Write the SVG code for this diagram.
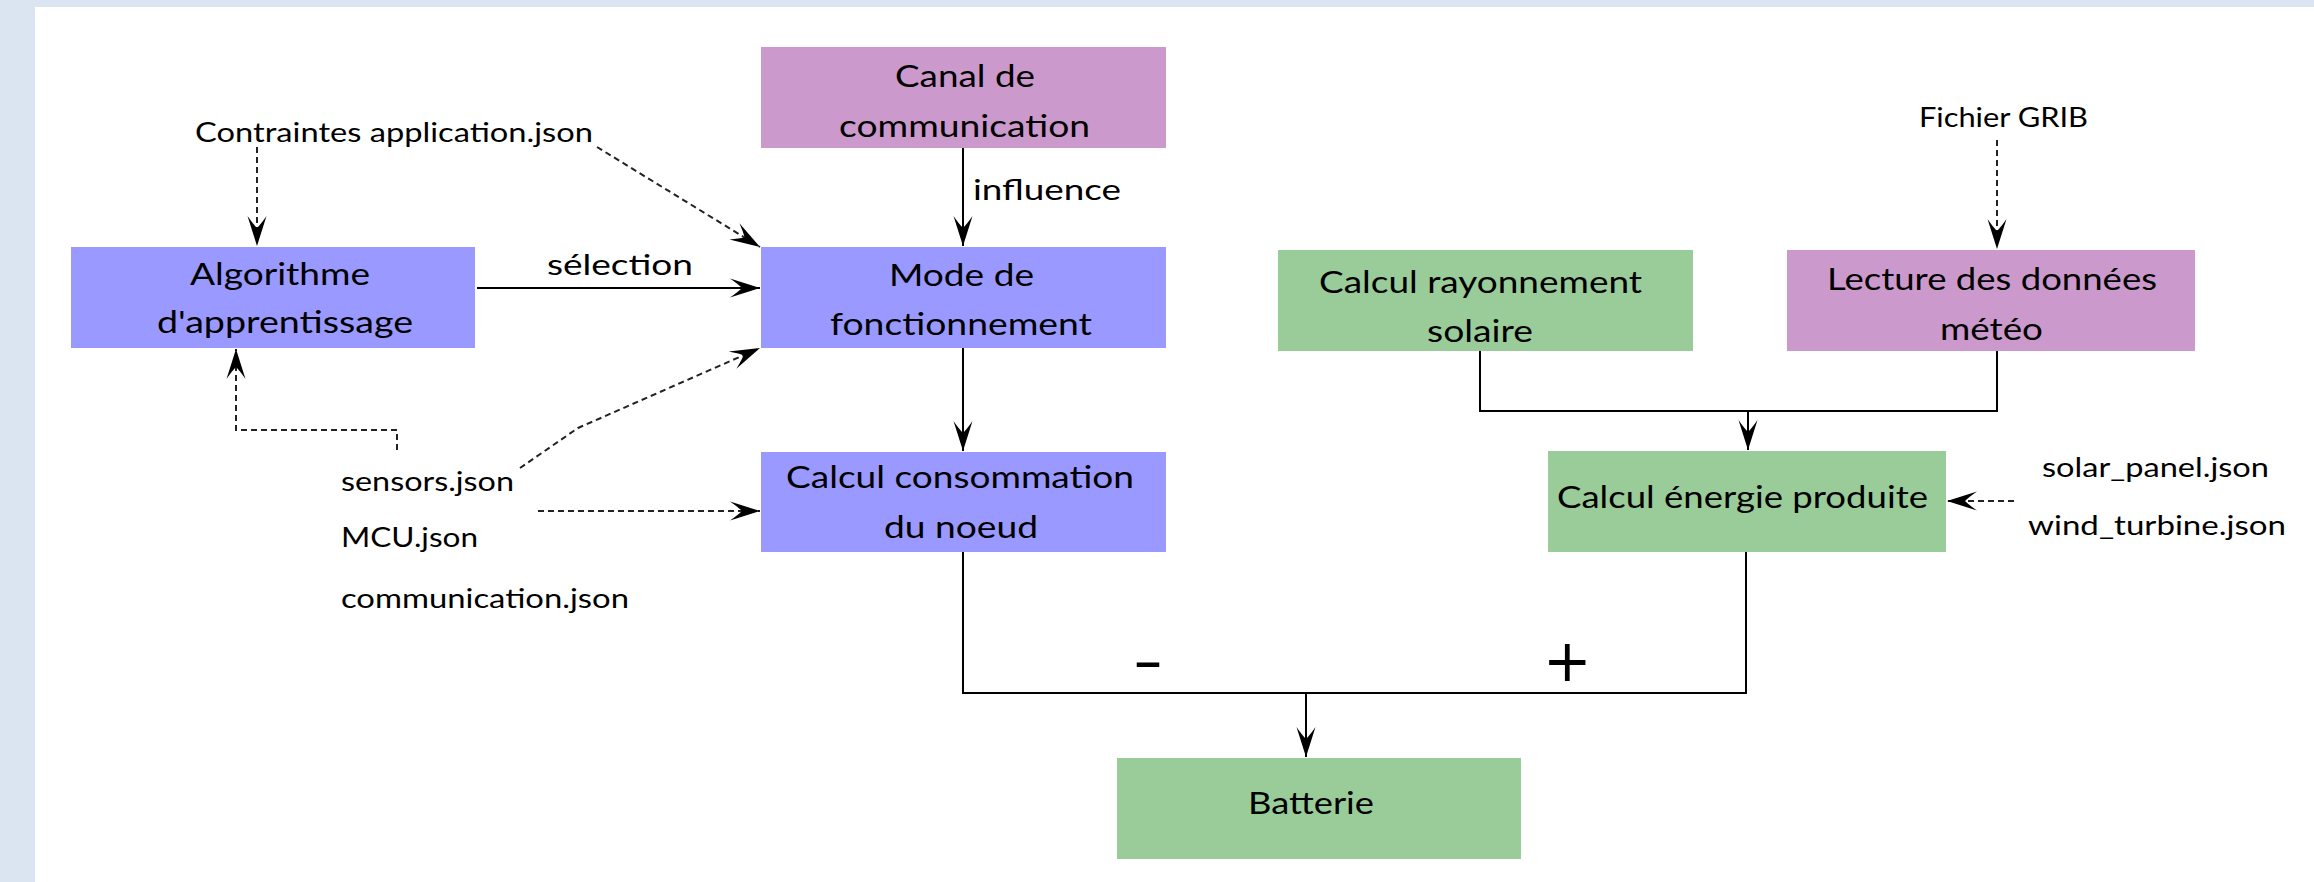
<svg xmlns="http://www.w3.org/2000/svg" width="2314" height="882" viewBox="0 0 2314 882">
<defs>
<style>
.bt{font-family:Lato,"Liberation Sans",sans-serif;font-size:30px;fill:#000}
.lb{font-family:Lato,"Liberation Sans",sans-serif;font-size:27px;fill:#000}
.el{font-family:Lato,"Liberation Sans",sans-serif;font-size:28px;fill:#000}
.sg{font-family:"DejaVu Sans",sans-serif;fill:#000}
.blue{fill:#9999ff}
.purple{fill:#cc99cc}
.green{fill:#99cc99}
.solid{stroke:#000;stroke-width:2;fill:none}
.dash{stroke:#222;stroke-width:2;stroke-dasharray:6 4;fill:none}
</style>
<marker id="ah" markerUnits="userSpaceOnUse" markerWidth="34" markerHeight="24" refX="32" refY="12" orient="auto">
<path d="M32,12 L2,2.5 Q10,8 14,12 Q10,16 2,21.5 Z" fill="#000"/>
</marker>
</defs>
<rect x="0" y="0" width="2314" height="882" fill="#dbe5f1"/>
<rect x="35" y="7" width="2279" height="875" fill="#ffffff"/>

<g id="connectors">
<line class="dash" x1="257" y1="147" x2="257" y2="246" marker-end="url(#ah)"/>
<line class="dash" x1="597" y1="147" x2="760" y2="247" marker-end="url(#ah)"/>
<line class="solid" x1="477" y1="288" x2="760" y2="288" marker-end="url(#ah)"/>
<polyline class="dash" points="397,450 397,430 236,430 236,349" marker-end="url(#ah)"/>
<polyline class="dash" points="520,468 578,428 760,348" marker-end="url(#ah)"/>
<line class="dash" x1="538" y1="511" x2="760" y2="511" marker-end="url(#ah)"/>
<line class="solid" x1="963" y1="148" x2="963" y2="246" marker-end="url(#ah)"/>
<line class="solid" x1="963" y1="348" x2="963" y2="451" marker-end="url(#ah)"/>
<line class="dash" x1="1997" y1="140" x2="1997" y2="249" marker-end="url(#ah)"/>
<polyline class="solid" points="1480,351 1480,411 1997,411 1997,351"/>
<line class="solid" x1="1748" y1="411" x2="1748" y2="450" marker-end="url(#ah)"/>
<line class="dash" x1="2014" y1="501" x2="1947" y2="501" marker-end="url(#ah)"/>
<polyline class="solid" points="963,552 963,693 1746,693 1746,552"/>
<line class="solid" x1="1306" y1="693" x2="1306" y2="757" marker-end="url(#ah)"/>
<text class="el" x="547" y="275" textLength="146" lengthAdjust="spacingAndGlyphs">sélection</text>
<text class="el" x="973" y="200" textLength="148" lengthAdjust="spacingAndGlyphs">influence</text>
<text class="sg" x="1134" y="682" font-size="64" textLength="28" lengthAdjust="spacingAndGlyphs">–</text>
<text class="sg" x="1543" y="681" font-size="58">+</text>
</g>

<g id="contraintes">
<text class="lb" x="195" y="142" textLength="398" lengthAdjust="spacingAndGlyphs">Contraintes application.json</text>
</g>
<g id="config-files">
<text class="lb" x="341" y="491" textLength="173" lengthAdjust="spacingAndGlyphs">sensors.json</text>
<text class="lb" x="341" y="547" textLength="137" lengthAdjust="spacingAndGlyphs">MCU.json</text>
<text class="lb" x="341" y="608" textLength="288" lengthAdjust="spacingAndGlyphs">communication.json</text>
</g>
<g id="grib">
<text class="lb" x="1919" y="127" textLength="169" lengthAdjust="spacingAndGlyphs">Fichier GRIB</text>
</g>
<g id="energy-files">
<text class="lb" x="2042" y="477" textLength="227" lengthAdjust="spacingAndGlyphs">solar_panel.json</text>
<text class="lb" x="2028" y="535" textLength="258" lengthAdjust="spacingAndGlyphs">wind_turbine.json</text>
</g>

<g id="algorithme">
<rect class="blue" x="71" y="247" width="404" height="101"/>
<text class="bt" x="190" y="285" textLength="180" lengthAdjust="spacingAndGlyphs">Algorithme</text>
<text class="bt" x="157" y="333" textLength="256" lengthAdjust="spacingAndGlyphs">d'apprentissage</text>
</g>
<g id="canal">
<rect class="purple" x="761" y="47" width="405" height="101"/>
<text class="bt" x="895" y="87" textLength="140" lengthAdjust="spacingAndGlyphs">Canal de</text>
<text class="bt" x="839" y="137" textLength="251" lengthAdjust="spacingAndGlyphs">communication</text>
</g>
<g id="mode">
<rect class="blue" x="761" y="247" width="405" height="101"/>
<text class="bt" x="889" y="286" textLength="145" lengthAdjust="spacingAndGlyphs">Mode de</text>
<text class="bt" x="830" y="335" textLength="262" lengthAdjust="spacingAndGlyphs">fonctionnement</text>
</g>
<g id="consommation">
<rect class="blue" x="761" y="452" width="405" height="100"/>
<text class="bt" x="786" y="488" textLength="348" lengthAdjust="spacingAndGlyphs">Calcul consommation</text>
<text class="bt" x="884" y="538" textLength="154" lengthAdjust="spacingAndGlyphs">du noeud</text>
</g>
<g id="rayonnement">
<rect class="green" x="1278" y="250" width="415" height="101"/>
<text class="bt" x="1319" y="293" textLength="323" lengthAdjust="spacingAndGlyphs">Calcul rayonnement</text>
<text class="bt" x="1427" y="342" textLength="106" lengthAdjust="spacingAndGlyphs">solaire</text>
</g>
<g id="lecture">
<rect class="purple" x="1787" y="250" width="408" height="101"/>
<text class="bt" x="1827" y="290" textLength="330" lengthAdjust="spacingAndGlyphs">Lecture des données</text>
<text class="bt" x="1940" y="340" textLength="103" lengthAdjust="spacingAndGlyphs">météo</text>
</g>
<g id="energie">
<rect class="green" x="1548" y="451" width="398" height="101"/>
<text class="bt" x="1557" y="508" textLength="371" lengthAdjust="spacingAndGlyphs">Calcul énergie produite</text>
</g>
<g id="batterie">
<rect class="green" x="1117" y="758" width="404" height="101"/>
<text class="bt" x="1248" y="814" textLength="126" lengthAdjust="spacingAndGlyphs">Batterie</text>
</g>
</svg>
